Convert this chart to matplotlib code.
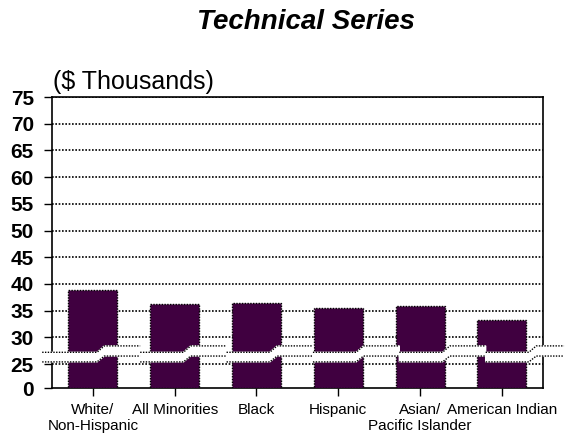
import numpy as np
import matplotlib
matplotlib.use("Agg")
import matplotlib.pyplot as plt
import matplotlib.transforms as mtransforms

plt.rcParams['font.family'] = ['Liberation Sans', 'DejaVu Sans']

# donnees
categories = ["White/\nNon-Hispanic", "All Minorities", "Black", "Hispanic",
              "Asian/\nPacific Islander", "American Indian"]
salaries = [38.8, 36.3, 36.5, 35.5, 35.9, 33.3]   # $ thousands
y_ticks = [25, 30, 35, 40, 45, 50, 55, 60, 65, 70, 75]

# axe coupe : le "0" est place juste sous 25
y_zero = 20.5
bar_color = "#400040"
dot = (0, (1, 1))

fig = plt.figure(figsize=(5.69, 4.40), dpi=100)
ax = fig.add_axes([0.0914, 0.118, 0.8625, 0.6614])

x = np.arange(len(categories))
ax.bar(x, np.array(salaries) - y_zero, bottom=y_zero, width=0.6,
       color=bar_color, edgecolor="black", linewidth=1, linestyle=dot, zorder=3)

ax.set_xlim(-0.5, 5.5)
ax.set_ylim(y_zero, 75)

# grille pointillee
for v in y_ticks:
    ax.axhline(v, color="black", lw=1.2, ls=dot, zorder=1)
for s in ax.spines.values():
    s.set_linestyle(dot)
    s.set_linewidth(1.2)

ax.set_yticks([y_zero] + y_ticks)
ax.set_yticklabels(["0"] + [str(v) for v in y_ticks], fontsize=15, fontweight="bold")
ax.tick_params(axis="y", length=6, width=1, pad=7)

# etiquettes x : premiere ligne en tick label, deuxieme ligne en texte separe
first = [c.split("\n")[0] for c in categories]
second = [c.split("\n")[1] if "\n" in c else "" for c in categories]
ax.set_xticks(x)
ax.set_xticklabels(first, fontsize=11)
ax.tick_params(axis="x", length=6, width=1, pad=5)
trans = mtransforms.blended_transform_factory(ax.transData, ax.transAxes)
for xi, lab in zip(x, second):
    if lab:
        ax.text(xi, -0.105, lab, transform=trans, fontsize=11, ha="center", va="top")

# symbole de coupure (bande blanche en escalier)
lo_b, lo_t, hi_b, hi_t = 25.4, 27.2, 26.5, 28.4
period, ramp = 1.056, 0.09
steps = [0.05 + k * period for k in range(len(categories))]
x_start, x_end = -0.62, 5.76

top, bot = [(x_start, lo_t)], [(x_start, lo_b)]
edges_t, edges_b = [[(x_start, lo_t)]], [[(x_start, lo_b)]]
for k, s in enumerate(steps):
    for pts, seg, lo, hi in ((top, edges_t, lo_t, hi_t), (bot, edges_b, lo_b, hi_b)):
        pts += [(s, lo), (s + ramp, hi)]
        seg[-1] += [(s, lo), (s + ramp, hi)]
        if k < len(steps) - 1:
            d = s + 0.5 * period
            pts += [(d, hi), (d, lo)]
            seg[-1].append((d, hi))
            seg.append([(d, lo)])
        else:
            pts.append((x_end, hi))
            seg[-1].append((x_end, hi))

poly = np.array(top + bot[::-1])
ax.fill(poly[:, 0], poly[:, 1], color="white", zorder=4, clip_on=False)
for seg in edges_t + edges_b:
    seg = np.array(seg)
    ax.plot(seg[:, 0], seg[:, 1], color="black", lw=1, ls=dot, zorder=5, clip_on=False)

ax.text(0.002, 1.01, "($ Thousands)", transform=ax.transAxes, fontsize=18,
        ha="left", va="bottom")
fig.text(0.538, 0.951, "Technical Series", fontsize=20, fontweight="bold",
         fontstyle="italic", ha="center", va="center")

fig.savefig("out.png", dpi=100)
